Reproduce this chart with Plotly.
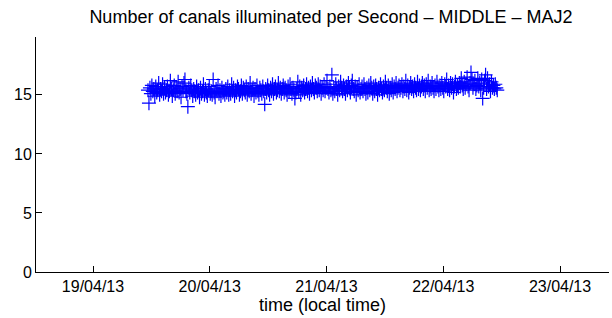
import pandas as pd
import plotly.graph_objects as go

title_text = "Number of canals illuminated per Second \u2013 MIDDLE \u2013 MAJ2"
x_title = "time (local time)"
t_start = "2013-04-19 11:18"
t_end = "2013-04-22 11:06"
tick_dates = ["2013-04-19", "2013-04-20", "2013-04-21", "2013-04-22", "2013-04-23"]
tick_labels = ["19/04/13", "20/04/13", "21/04/13", "22/04/13", "23/04/13"]
y_ticks = [0, 5, 10, 15]

canals = [
    15.4, 14.3, 15.6, 15.1, 15.8, 15.3, 15.5, 14.9, 15.7, 15.2, 15.4, 16.0, 15.0, 15.5, 15.3, 15.9, 15.1, 15.6, 15.2, 15.4,
    15.7, 15.0, 15.3, 16.2, 15.5, 14.9, 15.4, 15.8, 15.1, 15.6, 15.3, 16.1, 15.2, 15.5, 14.8, 15.7, 15.4, 16.0, 16.3, 15.3,
    15.1, 14.0, 15.6, 15.2, 15.8, 15.4, 14.9, 15.5, 15.3, 15.0, 15.7, 15.2, 15.4, 14.8, 15.6, 15.1, 15.3, 15.9, 15.0, 15.5,
    15.2, 14.9, 15.4, 15.7, 15.1, 15.3, 15.0, 16.3, 15.2, 14.8, 15.5, 15.3, 15.8, 15.1, 15.4, 14.9, 15.6, 15.2, 15.3, 15.0,
    15.5, 15.2, 15.7, 15.0, 15.4, 15.1, 15.9, 15.3, 15.6, 14.9, 15.4, 15.2, 15.7, 15.5, 15.0, 15.3, 15.8, 15.1, 15.6, 15.4,
    15.2, 15.7, 15.0, 15.5, 15.3, 16.0, 15.1, 15.4, 15.6, 14.9, 15.5, 15.2, 15.8, 15.3, 15.0, 15.6, 15.4, 15.1, 15.7, 15.3,
    14.2, 15.5, 15.2, 15.8, 15.4, 15.0, 15.6, 15.3, 15.9, 15.1, 15.5, 15.7, 15.2, 15.4, 16.0, 15.3, 15.6, 15.1, 15.5, 15.8,
    15.2, 15.6, 15.4, 15.0, 15.7, 15.3, 15.9, 15.5, 15.1, 15.6, 15.4, 14.7, 15.2, 15.5, 16.1, 15.3, 15.7, 15.0, 15.6, 15.4,
    15.8, 15.2, 15.5, 15.9, 15.3, 15.6, 15.1, 15.7, 15.4, 16.0, 15.5, 15.2, 15.8, 15.6, 15.3, 15.9, 15.4, 15.7, 15.1, 15.6,
    15.4, 15.9, 15.3, 15.6, 16.2, 15.5, 15.2, 15.7, 15.4, 16.7, 15.1, 15.6, 15.3, 15.9, 15.5, 15.0, 15.7, 15.4, 16.1, 15.6,
    15.3, 15.8, 15.5, 15.1, 15.7, 15.4, 16.0, 15.6, 15.2, 15.8, 16.2, 15.5, 15.3, 15.7, 15.0, 15.6, 15.4, 15.9, 15.2, 15.5,
    15.7, 15.3, 15.9, 15.5, 15.1, 15.6, 15.2, 15.8, 15.4, 16.0, 15.6, 15.1, 15.7, 15.3, 15.8, 15.5, 15.0, 15.6, 15.4, 15.9,
    15.5, 15.2, 15.7, 15.4, 16.1, 15.6, 15.3, 15.8, 15.1, 15.6, 15.4, 15.9, 15.2, 15.7, 15.5, 16.0, 15.3, 15.6, 15.8, 15.4,
    15.6, 15.9, 15.3, 15.7, 15.5, 16.2, 15.4, 15.8, 15.2, 15.6, 16.0, 15.5, 15.7, 15.3, 15.9, 15.6, 15.4, 16.1, 15.5, 15.8,
    15.4, 15.7, 16.0, 15.5, 15.8, 15.3, 15.9, 15.6, 16.2, 15.4, 15.7, 15.5, 16.0, 15.6, 15.3, 15.8, 15.5, 16.1, 15.7, 15.4,
    15.8, 15.5, 16.0, 15.6, 15.3, 15.9, 15.7, 16.3, 15.5, 15.8, 15.4, 16.0, 15.6, 15.9, 15.2, 15.7, 16.1, 15.5, 15.8, 15.6,
    16.0, 15.7, 16.4, 15.8, 15.5, 16.1, 15.6, 15.9, 16.5, 15.7, 15.4, 16.0, 16.9, 16.3, 15.6, 15.9, 16.2, 15.5, 15.8, 16.4,
    15.7, 16.0, 15.4, 16.3, 14.7, 15.6, 16.2, 16.7, 15.5, 16.4, 15.7, 15.9, 15.3, 16.1, 15.6, 15.8, 15.5, 15.9, 15.6, 15.4,
]

times = pd.date_range(t_start, t_end, periods=len(canals))

FONT = "Liberation Sans, Arial, Helvetica, sans-serif"

fig = go.Figure(
    go.Scatter(
        x=times,
        y=canals,
        mode="markers",
        marker=dict(symbol="cross-thin-open", size=10, color="#0000ff", opacity=1,
                    line=dict(color="#0000ff", width=1.2)),
        opacity=1,
        showlegend=False,
    )
)

fig.update_layout(
    width=612,
    height=318,
    margin=dict(l=36, r=3, t=37, b=46),
    paper_bgcolor="white",
    plot_bgcolor="white",
    font=dict(family=FONT, size=16, color="black"),
    title=dict(text=title_text, x=331 / 612, xanchor="center", y=1 - 17 / 318, yanchor="middle",
               font=dict(family=FONT, size=18, color="black")),
)

fig.update_xaxes(
    range=["2013-04-18 12:17", "2013-04-23 10:04"],
    tickvals=tick_dates,
    ticktext=tick_labels,
    ticks="inside",
    ticklen=6,
    tickcolor="black",
    showline=True,
    linecolor="black",
    linewidth=1,
    showgrid=False,
    zeroline=False,
    automargin=False,
    title=dict(text=x_title, standoff=4, font=dict(size=18)),
    tickfont=dict(size=16),
)
fig.update_yaxes(
    range=[0, 19.9],
    tickvals=y_ticks,
    ticks="inside",
    ticklen=6,
    tickcolor="black",
    showline=True,
    linecolor="black",
    linewidth=1,
    showgrid=False,
    zeroline=False,
    automargin=False,
    tickfont=dict(size=16),
)

fig.write_html("out.html", config={"displayModeBar": False},
               post_script="document.body.style.margin='0px';")
